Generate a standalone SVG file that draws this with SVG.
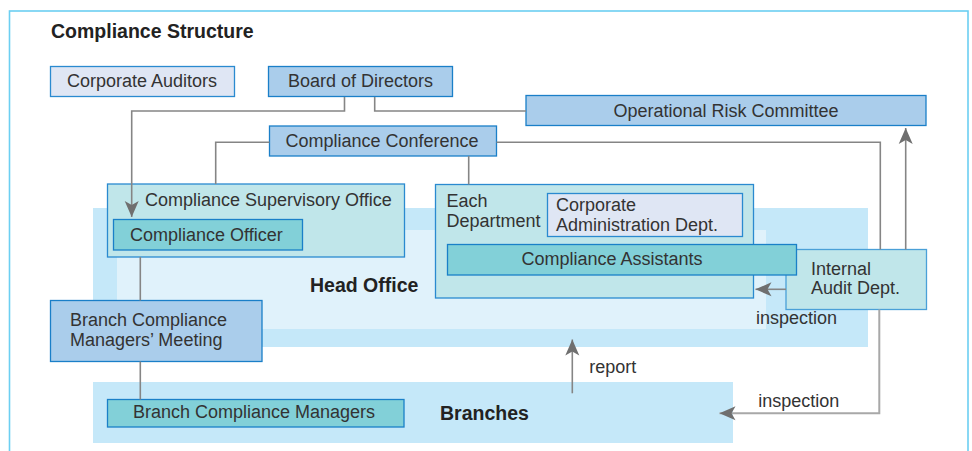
<svg xmlns="http://www.w3.org/2000/svg" width="972" height="451" viewBox="0 0 972 451">
<defs>
<marker id="ah" markerUnits="userSpaceOnUse" markerWidth="20" markerHeight="16" viewBox="-17 -8 18 16" refX="0" refY="0" orient="auto">
<path d="M0,0 L-16,-7 L-12,0 L-16,7 Z" fill="#6f6f6f"/>
</marker>
<style>
text{font-family:"Liberation Sans",Arial,sans-serif;font-size:18px;fill:#333}
.b{font-weight:bold;font-size:19.5px;fill:#222}
.m{text-anchor:middle}
.lav{fill:#dfe6f4;stroke:#2a8ad0;stroke-width:1.3}
.blu{fill:#aacdeb;stroke:#1a7fc8;stroke-width:1.3}
.ltl{fill:#c0e6ea;stroke:#2a8ad0;stroke-width:1.3}
.tl{fill:#82d0d8;stroke:#1a80c8;stroke-width:1.3}
.c{fill:none;stroke:#858585;stroke-width:1.6}
</style>
</defs>
<rect width="972" height="451" fill="#fff"/>
<rect x="9.5" y="11" width="958.5" height="460" fill="none" stroke="#6ccff2" stroke-width="1.6"/>
<text class="b" x="51" y="38">Compliance Structure</text>

<g id="bands">
<rect x="93" y="208" width="775" height="139" fill="#c5e8f9"/>
<rect x="117" y="230" width="649" height="99" fill="#e0f2fb"/>
<rect x="93" y="382" width="640" height="61" fill="#c5e8f9"/>
<text class="b" x="310" y="291.5">Head Office</text>
<text class="b" x="440" y="420">Branches</text>
</g>

<g id="corporate-auditors"><rect class="lav" x="50.5" y="66.5" width="184" height="30"/><text class="m" x="142" y="87">Corporate Auditors</text></g>
<g id="board"><rect class="blu" x="268.5" y="66.5" width="184" height="30"/><text class="m" x="360.5" y="87">Board of Directors</text></g>
<g id="orc"><rect class="blu" x="526" y="95.5" width="400" height="30"/><text class="m" x="726" y="116.5">Operational Risk Committee</text></g>
<g id="conference"><rect class="blu" x="269.5" y="126" width="227" height="30"/><text class="m" x="382" y="147">Compliance Conference</text></g>

<g id="supervisory-office"><rect class="ltl" x="107.5" y="184" width="297" height="73"/><text x="145" y="206">Compliance Supervisory Office</text></g>
<g id="compliance-officer"><rect class="tl" x="113.5" y="219.5" width="189" height="30.5"/><text x="130" y="240.7">Compliance Officer</text></g>

<g id="each-department"><rect class="ltl" x="435.5" y="184.5" width="318" height="113.5"/><text x="446.5" y="207">Each</text><text x="446.5" y="227">Department</text></g>
<g id="corp-admin"><rect class="lav" x="547.5" y="193.5" width="195" height="43"/><text x="556" y="210.7">Corporate</text><text x="556" y="230.7">Administration Dept.</text></g>

<g id="internal-audit"><rect class="ltl" x="786" y="249.5" width="140.5" height="60" style="stroke:#4aa0d8"/><text x="811" y="275">Internal</text><text x="811" y="294">Audit Dept.</text></g>
<g id="compliance-assistants"><rect class="tl" x="447.5" y="244.5" width="349" height="30.5"/><text class="m" x="612" y="264.5">Compliance Assistants</text></g>

<g id="bcm-meeting"><rect class="blu" x="50.5" y="300.5" width="211.5" height="61"/><text x="70" y="325.7">Branch Compliance</text><text x="70" y="345.7">Managers’ Meeting</text></g>
<g id="bcm"><rect class="tl" x="107.5" y="399.5" width="296.5" height="27.5"/><text class="m" x="254" y="418.3">Branch Compliance Managers</text></g>

<g id="connectors">
<polyline class="c" points="344.5,97 344.5,111 131.7,111 131.7,217" marker-end="url(#ah)"/>
<polyline class="c" points="374.7,97 374.7,111 526,111"/>
<polyline class="c" points="269.5,142.3 215.7,142.3 215.7,184"/>
<polyline class="c" points="468.7,156 468.7,184.5"/>
<polyline class="c" points="496.5,142.3 880.3,142.3 880.3,249.5"/>
<polyline class="c" points="905.7,249.5 905.7,128" marker-end="url(#ah)"/>
<polyline class="c" points="786,289.3 755.5,289.3" marker-end="url(#ah)"/>
<polyline class="c" points="879.3,309.5 879.3,413.3 719.5,413.3" style="stroke:#a8a8a8;stroke-width:2" marker-end="url(#ah)"/>
<polyline class="c" points="140.3,257 140.3,300.5"/>
<polyline class="c" points="140.3,361.5 140.3,399.5"/>
<polyline class="c" points="572.3,393.3 572.3,339.5" marker-end="url(#ah)"/>
<text x="756" y="324">inspection</text>
<text x="589.3" y="373.3">report</text>
<text x="758.3" y="406.7">inspection</text>
</g>
</svg>
